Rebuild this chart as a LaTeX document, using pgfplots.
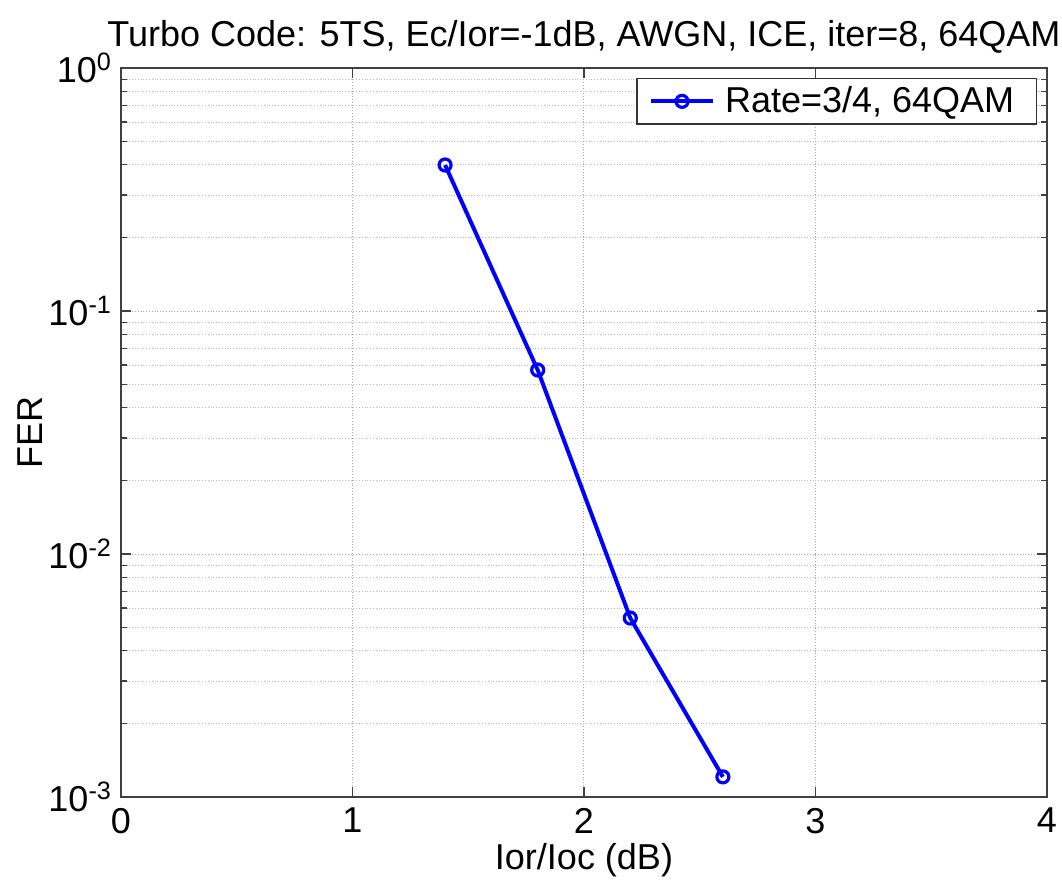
\documentclass[border=0pt]{standalone}
\usepackage{pgfplots}
\pgfplotsset{compat=1.18}
\usepackage{fontspec}
\setmainfont{Liberation Sans}

\definecolor{matblue}{RGB}{0,0,255}

\begin{document}
\begin{tikzpicture}
\begin{axis}[
  scale only axis,
  width=463pt, height=364.5pt,
  xmin=0, xmax=4,
  ymode=log, ymin=1e-3, ymax=1,
  xtick={0,1,2,3,4},
  xticklabels={0,1,2,3,4},
  ytick={1e-3,1e-2,1e-1,1},
  yticklabels={10\textsuperscript{-3},10\textsuperscript{-2},10\textsuperscript{-1},10\textsuperscript{0}},
  tick label style={font=\fontsize{18}{21}\selectfont},
  xticklabel style={yshift=-2pt},
  yticklabel style={xshift=-1pt},
  grid=both,
  major grid style={densely dotted, gray!70, line width=0.5pt},
  minor grid style={densely dotted, gray!55, line width=0.4pt},
  axis line style={black!75, line width=0.8pt},
  tick style={black!75, line width=0.6pt},
  major tick length=5pt,
  minor tick length=3pt,
  title={Turbo Code: 5TS, Ec/Ior=-1dB, AWGN, ICE, iter=8, 64QAM},
  title style={font=\fontsize{18}{21}\selectfont, yshift=-2pt},
  xlabel={Ior/Ioc (dB)},
  ylabel={FER},
  label style={font=\fontsize{18}{21}\selectfont},
  xlabel style={yshift=2pt},
  ylabel style={yshift=-4pt},
  legend image code/.code={%
    \draw[mark repeat=2, mark phase=2, #1]
      plot coordinates {(0pt,0pt) (15.5pt,0pt) (31pt,0pt)};},
  legend style={
    at={(0.989,0.986)}, anchor=north east,
    font=\fontsize{18}{21}\selectfont,
    draw=black!80, line width=0.6pt,
    inner xsep=6pt, inner ysep=2pt,
    nodes={inner xsep=5pt},
  },
  legend cell align=left,
]
\addplot[color=matblue, line width=2pt, mark=o, mark size=3pt,
         mark options={line width=1.6pt}]
  coordinates {
    (1.4, 0.399)
    (1.8, 0.0572)
    (2.2, 0.00545)
    (2.6, 0.00121)
  };
\addlegendentry{Rate=3/4, 64QAM}
\end{axis}
\pgfresetboundingbox
\path (-60.5pt,-43.5pt) rectangle (470.5pt,398.5pt);
\end{tikzpicture}
\end{document}
